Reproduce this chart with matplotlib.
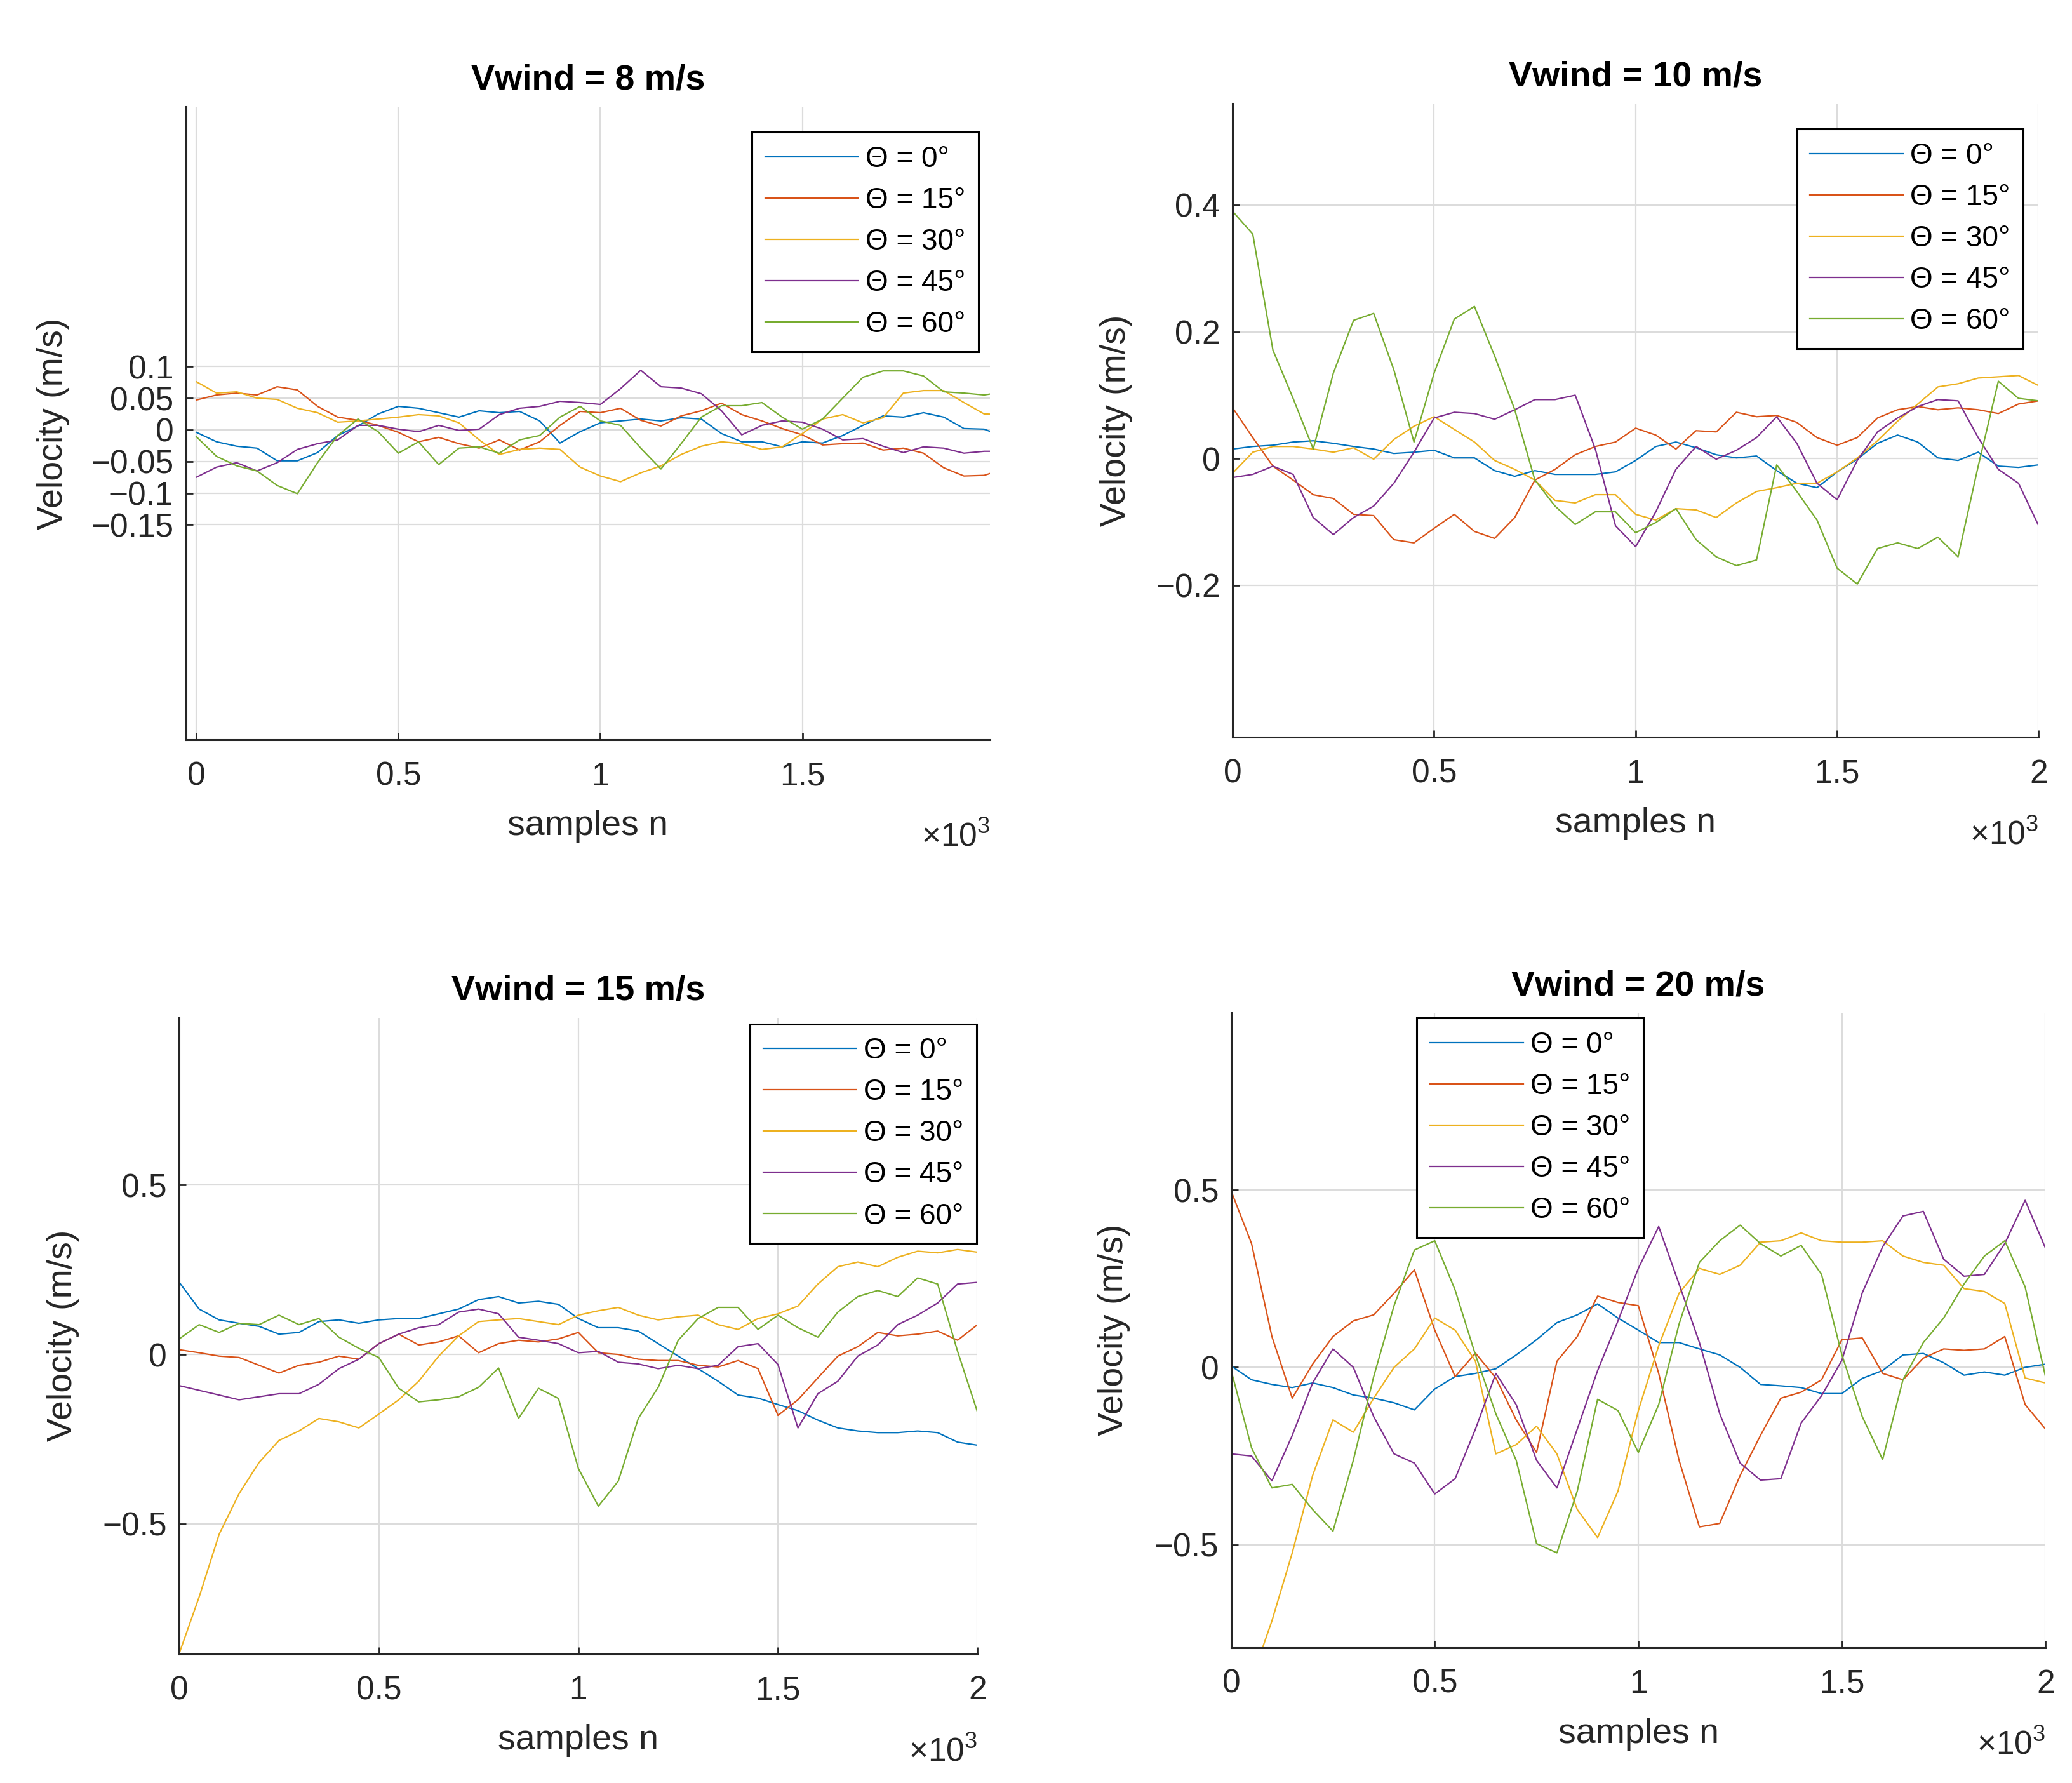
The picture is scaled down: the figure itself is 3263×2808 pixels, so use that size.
import numpy as np
import matplotlib.pyplot as plt

# SETTINGS
plt.rcParams['font.family'] = ['Liberation Sans', 'DejaVu Sans']
plt.rcParams['mathtext.default'] = 'regular'
AX_COLOR = '#262626'
GRID_COLOR = '#dcdcdc'
COLORS = ['#0072bd', '#d95319', '#edb120', '#7e2f8e', '#77ac30']
LABELS = ['Θ = 0°', 'Θ = 15°', 'Θ = 30°', 'Θ = 45°', 'Θ = 60°']

# DATA (values read every 50 samples)
n = np.arange(0, 2001, 50)

# Vwind = 8 m/s
v8_0 = [-0.004, -0.019, -0.026, -0.029, -0.049, -0.049, -0.036, -0.009, 0.006, 0.025, 0.037, 0.034, 0.027, 0.020,
        0.030, 0.027, 0.029, 0.014, -0.021, -0.003, 0.011, 0.014, 0.017, 0.014, 0.019, 0.017, -0.006, -0.019,
        -0.019, -0.027, -0.019, -0.021, -0.009, 0.007, 0.022, 0.020, 0.027, 0.020, 0.002, 0.001, -0.011]
v8_15 = [0.047, 0.055, 0.058, 0.055, 0.068, 0.063, 0.037, 0.020, 0.015, 0.007, -0.004, -0.019, -0.012, -0.022,
         -0.029, -0.016, -0.032, -0.019, 0.007, 0.029, 0.027, 0.034, 0.015, 0.006, 0.022, 0.030, 0.042, 0.024,
         0.014, 0.002, -0.008, -0.024, -0.022, -0.021, -0.032, -0.029, -0.037, -0.060, -0.073, -0.072, -0.062]
v8_30 = [0.076, 0.058, 0.060, 0.050, 0.048, 0.034, 0.027, 0.012, 0.014, 0.017, 0.020, 0.024, 0.022, 0.011,
         -0.016, -0.039, -0.031, -0.029, -0.031, -0.059, -0.073, -0.082, -0.068, -0.057, -0.039, -0.026, -0.019,
         -0.022, -0.031, -0.027, -0.006, 0.017, 0.024, 0.011, 0.019, 0.058, 0.062, 0.062, 0.043, 0.025, 0.024]
v8_45 = [-0.075, -0.059, -0.052, -0.065, -0.052, -0.031, -0.022, -0.016, 0.007, 0.007, 0.001, -0.003, 0.007,
         -0.001, 0.001, 0.024, 0.034, 0.037, 0.045, 0.043, 0.040, 0.065, 0.094, 0.068, 0.066, 0.057, 0.030,
         -0.008, 0.007, 0.014, 0.012, 0.001, -0.016, -0.014, -0.026, -0.036, -0.027, -0.029, -0.037, -0.034, -0.034]
v8_60 = [-0.011, -0.042, -0.057, -0.065, -0.088, -0.101, -0.052, -0.009, 0.017, -0.003, -0.037, -0.019, -0.055,
         -0.029, -0.027, -0.037, -0.016, -0.009, 0.020, 0.037, 0.014, 0.007, -0.029, -0.062, -0.022, 0.020, 0.038,
         0.038, 0.043, 0.020, 0.001, 0.017, 0.050, 0.083, 0.093, 0.093, 0.085, 0.060, 0.058, 0.055, 0.060]

# Vwind = 10 m/s
v10_0 = [0.015, 0.019, 0.021, 0.026, 0.028, 0.024, 0.019, 0.015, 0.008, 0.010, 0.013, 0.001, 0.001, -0.019,
         -0.028, -0.019, -0.025, -0.025, -0.025, -0.021, -0.003, 0.019, 0.026, 0.017, 0.006, 0.001, 0.004, -0.019,
         -0.039, -0.046, -0.021, -0.001, 0.024, 0.037, 0.026, 0.001, -0.003, 0.010, -0.012, -0.014, -0.010]
v10_15 = [0.080, 0.033, -0.012, -0.034, -0.057, -0.063, -0.088, -0.090, -0.128, -0.133, -0.110, -0.088, -0.115,
          -0.126, -0.093, -0.034, -0.017, 0.006, 0.019, 0.026, 0.048, 0.037, 0.015, 0.044, 0.042, 0.073, 0.066,
          0.068, 0.057, 0.033, 0.021, 0.033, 0.064, 0.077, 0.082, 0.077, 0.080, 0.077, 0.071, 0.086, 0.091]
v10_30 = [-0.023, 0.010, 0.019, 0.019, 0.015, 0.010, 0.017, -0.001, 0.030, 0.051, 0.066, 0.046, 0.026, -0.003,
          -0.017, -0.034, -0.066, -0.070, -0.057, -0.057, -0.088, -0.097, -0.079, -0.081, -0.093, -0.070, -0.052,
          -0.046, -0.039, -0.039, -0.021, 0.001, 0.028, 0.059, 0.086, 0.113, 0.118, 0.127, 0.129, 0.131, 0.115]
v10_45 = [-0.030, -0.025, -0.012, -0.025, -0.093, -0.120, -0.093, -0.075, -0.039, 0.010, 0.064, 0.073, 0.071,
          0.062, 0.077, 0.093, 0.093, 0.100, 0.015, -0.106, -0.139, -0.084, -0.017, 0.019, -0.001, 0.013, 0.033,
          0.066, 0.024, -0.039, -0.065, -0.003, 0.042, 0.064, 0.082, 0.093, 0.091, 0.033, -0.017, -0.039, -0.106]
v10_60 = [0.390, 0.354, 0.171, 0.095, 0.015, 0.135, 0.218, 0.229, 0.140, 0.026, 0.135, 0.220, 0.240, 0.162, 0.077,
          -0.034, -0.075, -0.104, -0.084, -0.084, -0.117, -0.101, -0.079, -0.128, -0.155, -0.169, -0.160, -0.010,
          -0.052, -0.097, -0.173, -0.198, -0.142, -0.133, -0.142, -0.124, -0.155, -0.012, 0.122, 0.095, 0.091]

# Vwind = 15 m/s
v15_0 = [0.213, 0.134, 0.102, 0.092, 0.083, 0.060, 0.065, 0.097, 0.102, 0.092, 0.102, 0.106, 0.106, 0.120, 0.134,
         0.162, 0.171, 0.152, 0.157, 0.148, 0.106, 0.079, 0.079, 0.069, 0.032, -0.005, -0.042, -0.079, -0.120,
         -0.129, -0.148, -0.166, -0.194, -0.217, -0.226, -0.231, -0.231, -0.226, -0.231, -0.259, -0.268]
v15_15 = [0.014, 0.005, -0.005, -0.009, -0.032, -0.055, -0.032, -0.023, -0.005, -0.014, 0.032, 0.060, 0.028, 0.037,
          0.055, 0.005, 0.032, 0.042, 0.037, 0.046, 0.065, 0.005, 0.000, -0.014, -0.018, -0.018, -0.032, -0.037,
          -0.018, -0.042, -0.180, -0.134, -0.069, -0.005, 0.023, 0.065, 0.055, 0.060, 0.069, 0.042, 0.088]
v15_30 = [-0.883, -0.716, -0.531, -0.411, -0.319, -0.254, -0.226, -0.189, -0.199, -0.217, -0.176, -0.134, -0.079,
          -0.005, 0.055, 0.097, 0.102, 0.106, 0.097, 0.088, 0.116, 0.129, 0.139, 0.116, 0.102, 0.111, 0.116, 0.088,
          0.074, 0.106, 0.120, 0.143, 0.208, 0.259, 0.273, 0.259, 0.287, 0.305, 0.300, 0.310, 0.302]
v15_45 = [-0.092, -0.106, -0.120, -0.134, -0.125, -0.116, -0.116, -0.088, -0.042, -0.014, 0.032, 0.060, 0.079,
          0.088, 0.125, 0.134, 0.120, 0.051, 0.042, 0.032, 0.005, 0.009, -0.023, -0.028, -0.042, -0.032, -0.042,
          -0.032, 0.023, 0.032, -0.030, -0.217, -0.116, -0.079, -0.005, 0.028, 0.088, 0.116, 0.152, 0.208, 0.213]
v15_60 = [0.046, 0.088, 0.065, 0.092, 0.088, 0.116, 0.088, 0.106, 0.051, 0.018, -0.009, -0.100, -0.140, -0.134,
          -0.125, -0.097, -0.040, -0.189, -0.100, -0.130, -0.337, -0.448, -0.374, -0.189, -0.097, 0.042, 0.106,
          0.139, 0.139, 0.074, 0.116, 0.079, 0.051, 0.125, 0.171, 0.189, 0.171, 0.226, 0.208, 0.009, -0.171]

# Vwind = 20 m/s
v20_0 = [0.004, -0.035, -0.048, -0.057, -0.044, -0.057, -0.078, -0.087, -0.100, -0.120, -0.061, -0.026, -0.017,
         -0.004, 0.035, 0.078, 0.126, 0.148, 0.179, 0.139, 0.105, 0.070, 0.070, 0.052, 0.035, 0.000, -0.048, -0.052,
         -0.057, -0.074, -0.074, -0.031, -0.009, 0.035, 0.039, 0.013, -0.022, -0.013, -0.022, 0.000, 0.009]
v20_15 = [0.497, 0.349, 0.087, -0.087, 0.009, 0.087, 0.131, 0.148, 0.209, 0.275, 0.105, -0.026, 0.040, -0.030,
          -0.148, -0.240, 0.017, 0.087, 0.201, 0.183, 0.174, -0.017, -0.262, -0.450, -0.440, -0.305, -0.192, -0.087,
          -0.070, -0.035, 0.078, 0.083, -0.017, -0.035, 0.026, 0.052, 0.048, 0.052, 0.087, -0.105, -0.174]
v20_30 = [-1.080, -0.880, -0.715, -0.523, -0.305, -0.148, -0.183, -0.087, 0.000, 0.052, 0.139, 0.105, 0.017,
          -0.244, -0.218, -0.166, -0.244, -0.401, -0.480, -0.349, -0.122, 0.061, 0.209, 0.279, 0.262, 0.288, 0.353,
          0.357, 0.379, 0.357, 0.353, 0.353, 0.357, 0.314, 0.296, 0.288, 0.222, 0.214, 0.180, -0.030, -0.044]
v20_45 = [-0.244, -0.250, -0.320, -0.192, -0.044, 0.052, 0.000, -0.139, -0.244, -0.270, -0.357, -0.314, -0.174,
          -0.017, -0.105, -0.262, -0.340, -0.174, -0.009, 0.131, 0.279, 0.397, 0.235, 0.070, -0.131, -0.270, -0.318,
          -0.314, -0.157, -0.080, 0.020, 0.210, 0.340, 0.427, 0.440, 0.305, 0.257, 0.262, 0.349, 0.471, 0.336]
v20_60 = [-0.009, -0.227, -0.340, -0.330, -0.401, -0.462, -0.262, -0.026, 0.174, 0.331, 0.357, 0.218, 0.035,
          -0.131, -0.262, -0.497, -0.523, -0.349, -0.090, -0.122, -0.240, -0.105, 0.122, 0.296, 0.357, 0.401, 0.349,
          0.314, 0.344, 0.262, 0.035, -0.139, -0.260, -0.035, 0.070, 0.139, 0.235, 0.314, 0.357, 0.227, -0.026]

# tick labels
xt_full = [0, 500, 1000, 1500, 2000]
xt_full_lbl = ['0', '0.5', '1', '1.5', '2']
yt_8 = [-0.15, -0.1, -0.05, 0, 0.05, 0.1]
yt_8_lbl = ['\u22120.15', '\u22120.1', '\u22120.05', '0', '0.05', '0.1']
yt_10 = [-0.2, 0, 0.2, 0.4]
yt_10_lbl = ['\u22120.2', '0', '0.2', '0.4']
yt_15 = [-0.5, 0, 0.5]
yt_15_lbl = ['\u22120.5', '0', '0.5']


# FUNCTIONS
def draw_panel(ax, title, series, xticks, xlabels, yticks, ylabels, xlim, ylim, leg_pos, ylab_x):
    ''' Draws one MATLAB-like panel '''
    for vals, col, lab in zip(series, COLORS, LABELS):
        ax.plot(n, vals, color=col, lw=1.6, label=lab)
    ax.set_xlim(xlim)
    ax.set_ylim(ylim)
    ax.set_xticks(xticks)
    ax.set_xticklabels(xlabels)
    ax.set_yticks(yticks)
    ax.set_yticklabels(ylabels)
    ax.grid(True, color=GRID_COLOR, lw=1.6)
    ax.set_axisbelow(True)
    for side in ['top', 'right']:
        ax.spines[side].set_visible(False)
    for side in ['left', 'bottom']:
        ax.spines[side].set_color(AX_COLOR)
        ax.spines[side].set_linewidth(2.2)
    ax.tick_params(direction='in', length=8, width=2, colors=AX_COLOR, labelsize=37)
    ax.tick_params(axis='x', pad=24)
    ax.tick_params(axis='y', pad=14)
    ax.set_title(title, fontsize=40, fontweight='bold', pad=20)
    ax.set_xlabel('samples n', fontsize=40, color=AX_COLOR)
    ax.xaxis.set_label_coords(0.5, -0.11)
    ax.set_ylabel('Velocity (m/s)', fontsize=40, color=AX_COLOR)
    ax.yaxis.set_label_coords(-ylab_x, 0.5)
    ax.text(1.0, -0.168, '\u00d710$^{3}$', transform=ax.transAxes, ha='right', va='baseline',
            fontsize=37, color=AX_COLOR)
    leg = ax.legend(loc='upper left', bbox_to_anchor=leg_pos, fontsize=33, fancybox=False,
                    edgecolor='black', framealpha=1, borderpad=0.45, labelspacing=0.46,
                    handlelength=3.2, handletextpad=0.25, borderaxespad=0)
    leg.get_frame().set_linewidth(2.2)


# MAIN
fig = plt.figure(figsize=(32.63, 28.08), dpi=100)
ax1 = fig.add_axes([0.0897, 0.585, 0.388, 0.355])
ax2 = fig.add_axes([0.5949, 0.5864, 0.389, 0.3555])
ax3 = fig.add_axes([0.0865, 0.0723, 0.3853, 0.357])
ax4 = fig.add_axes([0.5942, 0.076, 0.393, 0.356])

draw_panel(ax1, 'Vwind = 8 m/s', [v8_0, v8_15, v8_30, v8_45, v8_60],
           xt_full[:4], xt_full_lbl[:4], yt_8, yt_8_lbl, (-26, 1964), (-0.49, 0.51), (0.704, 0.96), 0.144)
draw_panel(ax2, 'Vwind = 10 m/s', [v10_0, v10_15, v10_30, v10_45, v10_60],
           xt_full, xt_full_lbl, yt_10, yt_10_lbl, (0, 2000), (-0.44, 0.56), (0.70, 0.96), 0.124)
draw_panel(ax3, 'Vwind = 15 m/s', [v15_0, v15_15, v15_30, v15_45, v15_60],
           xt_full, xt_full_lbl, yt_15, yt_15_lbl, (0, 2000), (-0.885, 0.995), (0.715, 0.99), 0.125)
draw_panel(ax4, 'Vwind = 20 m/s', [v20_0, v20_15, v20_30, v20_45, v20_60],
           xt_full, xt_full_lbl, yt_15, yt_15_lbl, (0, 2000), (-0.79, 1.0), (0.228, 0.992), 0.124)

fig.savefig('out.png', dpi=100, facecolor='white')
